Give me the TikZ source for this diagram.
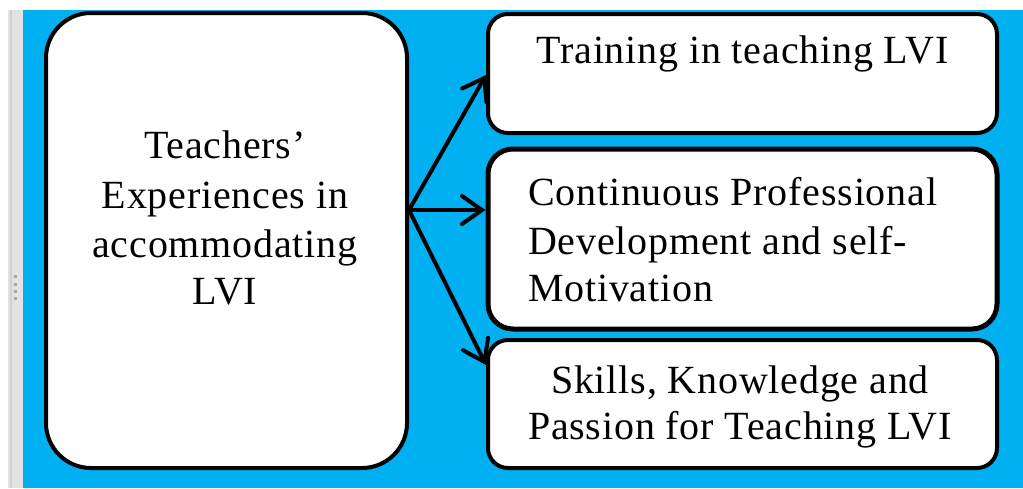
\documentclass[tikz,border=0pt]{standalone}
\usepackage{fontspec}
\setmainfont{Liberation Serif}[LetterSpace=2]
\usetikzlibrary{arrows.meta}
\definecolor{bg}{HTML}{00B0F0}
\definecolor{strip}{HTML}{E2E2E2}
\definecolor{stripline}{HTML}{D0D0D0}
\definecolor{grip}{HTML}{A8A8A8}
\begin{document}
\begin{tikzpicture}[x=1pt,y=-1pt,
  box/.style={draw=black, line width=4pt, fill=white, rounded corners=#1, inner sep=0pt},
  txt/.style={font=\fontsize{40}{48}\selectfont, inner sep=0pt, anchor=base},
  ltxt/.style={txt, anchor=base west},
  conn/.style={line width=4pt, line cap=round, -{Straight Barb[length=20pt,width=28pt,line cap=round]}}]
\useasboundingbox (0,0) rectangle (1023,488);
\fill[white] (0,0) rectangle (1023,488);
\fill[strip] (8,10) rectangle (23,488);
\draw[stripline, line width=1.5pt] (11,10) -- (11,488);
\foreach \yy in {275,283,290,297} \fill[grip] (14,\yy) rectangle (17,\yy+3);
\fill[bg] (23,10) rectangle (1023,488);
% boxes
\node[box=45pt, minimum width=361pt, minimum height=455pt] (L) at (226.5,240.5) {};
\node[box=20pt, minimum width=509pt, minimum height=119pt] (B1) at (742.5,73.5) {};
\node[box=25pt, line width=5pt, minimum width=509pt, minimum height=180pt] (B2) at (742.5,239) {};
\node[box=20pt, minimum width=509pt, minimum height=128pt] (B3) at (742.5,404) {};
% texts
\node[txt] (L1) at (225,158) {Teachers’};
\node[txt] (L2) at (225,208) {Experiences in};
\node[txt] (L3) at (225,257) {accommodating};
\node[txt] (L4) at (225,304) {LVI};
\node[txt] (T1) at (742.5,63) {Training in teaching LVI};
\node[ltxt] (T2a) at (528,205) {Continuous Professional};
\node[ltxt] (T2b) at (528,254) {Development and self-};
\node[ltxt] (T2c) at (528,301) {Motivation};
\node[txt] (T3a) at (740,393) {Skills, Knowledge and};
\node[txt] (T3b) at (740,439) {Passion for Teaching LVI};
% connectors
\coordinate (o) at ([yshift=30.5pt]L.east);
\coordinate (e1) at ([yshift=-1.5pt]B1.west);
\coordinate (e2) at (B2.west |- o);
\coordinate (e3) at ([yshift=39pt]B3.west);
\draw[conn] (o) -- (e1);
\draw[conn] (o) -- (e2);
\draw[conn] (o) -- (e3);
\end{tikzpicture}
\end{document}
